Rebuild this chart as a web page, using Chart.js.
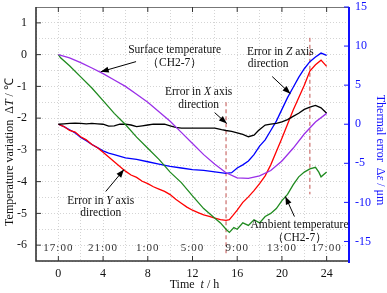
<!DOCTYPE html>
<html><head><meta charset="utf-8">
<script src="https://cdn.jsdelivr.net/npm/chart.js@4/dist/chart.umd.min.js"></script>
<style>html,body{margin:0;padding:0;background:#fff}</style>
</head><body>
<canvas id="c" width="387" height="293" style="width:387px;height:293px;display:block"></canvas>
<script>
// ---- data ----
const hourTicks = [0, 4, 8, 12, 16, 20, 24];
const clockLabels = ['17:00', '21:00', '1:00', '5:00', '9:00', '13:00', '17:00'];

const surfaceHours = [0,1,2,3,4,5,6,7,8,9,10,11,12,13,14,15,16,17,18,19,20,21,22,23,24];
const surfaceTemp  = [0,-0.1,-0.25,-0.42,-0.6,-0.8,-1.0,-1.25,-1.5,-1.8,-2.1,-2.45,-2.8,-3.15,-3.45,-3.72,-3.88,-3.9,-3.82,-3.65,-3.35,-2.95,-2.5,-2.12,-1.85];

const ambientHours = [0,0.2,1,2,3,4,5,6,7,8,9,10,11,12,13,14,14.5,15,15.3,15.7,16,16.5,17,17.5,18,18.5,19,19.5,20,20.5,21,21.5,22,22.5,23,23.3,23.5,24];
const ambientTemp  = [0,-0.1,-0.35,-0.7,-1.05,-1.45,-1.85,-2.2,-2.6,-2.95,-3.3,-3.7,-4.03,-4.45,-4.85,-5.15,-5.3,-5.5,-5.6,-5.45,-5.5,-5.3,-5.38,-5.2,-5.3,-5.1,-5.0,-4.85,-4.6,-4.4,-4.1,-3.85,-3.7,-3.6,-3.55,-3.7,-3.85,-3.7];

const errorXHours = [0,0.5,1,1.5,2,2.5,3,3.5,4,4.5,5,5.5,6,6.5,7,7.5,8,8.5,9,9.5,10,10.5,11,12,13,14,14.6,15,15.5,16,16.5,17,17.5,17.9,18.5,19,19.5,20,20.5,21,21.5,22,22.5,23,23.5,24];
const errorX      = [0,0.05,0.1,0.15,0.1,0.05,0.1,0.05,0,-0.25,-0.2,0,0,-0.1,-0.3,-0.2,-0.1,0,0,0,-0.2,-0.4,-0.5,-0.5,-0.5,-0.5,-0.7,-0.8,-0.9,-1.1,-1.3,-1.6,-1.4,-0.8,-0.1,0,0.1,0.3,0.6,1.0,1.4,1.9,2.2,2.4,2.1,1.4];

const errorYHours = [0,0.5,1,1.5,2,2.5,3,3.5,4,4.5,5,5.5,6,6.5,7,7.5,8,8.5,9,9.5,10,10.5,11,11.5,12,12.5,13,13.5,14,14.5,15,15.3,15.6,16,16.5,17,17.5,18,18.5,19,19.5,20,20.5,21,21.5,22,22.5,23,23.5,24];
const errorY      = [0,-0.3,-0.8,-1.0,-1.6,-2.0,-2.6,-3.0,-3.6,-4.2,-4.8,-5.4,-6.0,-6.5,-6.8,-7.3,-7.6,-8.0,-8.3,-8.6,-9.0,-9.6,-10.1,-10.6,-11.0,-11.3,-11.6,-11.8,-12.0,-12.2,-12.3,-12.2,-11.7,-11.0,-10.0,-9.3,-8.5,-7.6,-6.6,-5.2,-3.5,-1.8,0,1.8,3.4,5.0,6.8,7.6,8.2,7.4];

const errorZHours = [0,0.5,1,1.5,2,2.5,3,3.5,4,4.5,5,6,7,8,9,10,11,12,13,14,15,15.5,16,16.5,17,17.5,18,18.5,19,19.5,20,20.5,21,21.5,22,22.5,23,23.5,24];
const errorZ      = [0,-0.3,-0.7,-1.1,-1.7,-2.1,-2.6,-3.0,-3.4,-3.7,-3.9,-4.3,-4.5,-4.8,-5.1,-5.4,-5.6,-5.8,-5.9,-6.1,-6.3,-6.2,-5.6,-5.2,-4.7,-3.9,-2.8,-2.0,-0.8,0.4,1.9,3.4,4.7,6.0,7.1,8.0,8.6,9.1,8.8];

const markerHours = [15, 22.5];
const markerTop    = [-1.5, 0.53];
const markerBottom = [-6.3, -4.4];

// ---- build ----
const pts = (xs, ys) => xs.map((x, i) => ({x, y: ys[i]}));
const SERIF = '"Liberation Serif", "Times New Roman", serif';

const datasets = [
  {data: pts(surfaceHours, surfaceTemp), borderColor: '#9a2fe8', yAxisID: 'y'},
  {data: pts(ambientHours, ambientTemp), borderColor: '#1f8a1f', yAxisID: 'y'},
  {data: pts(errorXHours, errorX), borderColor: '#000000', yAxisID: 'y1'},
  {data: pts(errorYHours, errorY), borderColor: '#ff0000', yAxisID: 'y1'},
  {data: pts(errorZHours, errorZ), borderColor: '#0000ff', yAxisID: 'y1'},
].map(d => Object.assign({borderWidth: 1.3, pointRadius: 0, tension: 0, fill: false}, d));

markerHours.forEach((h, i) => {
  datasets.push({data: [{x: h, y: markerTop[i]}, {x: h, y: markerBottom[i]}], yAxisID: 'y',
    borderColor: '#c0504d', borderWidth: 1, borderDash: [4, 3], pointRadius: 0, fill: false});
});

function richText(ctx, segs, cx, cy, size, color) {
  ctx.save();
  ctx.fillStyle = color; ctx.textBaseline = 'middle'; ctx.textAlign = 'left';
  let w = 0;
  segs.forEach(s => { ctx.font = (s[1] ? 'italic ' : '') + size + 'px ' + SERIF; w += ctx.measureText(s[0]).width; });
  let x = cx - w / 2;
  segs.forEach(s => { ctx.font = (s[1] ? 'italic ' : '') + size + 'px ' + SERIF; ctx.fillText(s[0], x, cy); x += ctx.measureText(s[0]).width; });
  ctx.restore();
}
function arrow(ctx, x1, y1, x2, y2) {
  ctx.save();
  ctx.strokeStyle = '#000'; ctx.fillStyle = '#000'; ctx.lineWidth = 1;
  ctx.beginPath(); ctx.moveTo(x1, y1); ctx.lineTo(x2, y2); ctx.stroke();
  const a = Math.atan2(y2 - y1, x2 - x1), L = 8, W = 3;
  ctx.beginPath(); ctx.moveTo(x2, y2);
  ctx.lineTo(x2 - L * Math.cos(a) + W * Math.sin(a), y2 - L * Math.sin(a) - W * Math.cos(a));
  ctx.lineTo(x2 - L * Math.cos(a) - W * Math.sin(a), y2 - L * Math.sin(a) + W * Math.cos(a));
  ctx.closePath(); ctx.fill();
  ctx.restore();
}

const annotations = [
  {lines: [[['Surface temperature', 0]], [['\uFF08CH2-7\uFF09', 0]]], at: [[10.4, 0.16], [10.4, -0.25]], arrow: [6.95, -0.22, 3.79, -0.54]},
  {lines: [[['Error in ', 0], ['Z', 1], [' axis', 0]], [['direction', 0]]], at: [[19.86, 0.09], [18.77, -0.28]], arrow: [19.13, -0.69, 20.76, -1.23]},
  {lines: [[['Error in ', 0], ['X', 1], [' axis', 0]], [['direction', 0]]], at: [[12.55, -1.17], [12.55, -1.6]], arrow: [13.99, -1.83, 15.07, -2.17]},
  {lines: [[['Error in ', 0], ['Y', 1], [' axis', 0]], [['direction', 0]]], at: [[3.79, -4.6], [3.79, -4.98]], arrow: [4.24, -4.31, 5.87, -3.62]},
  {lines: [[['Ambient temperature', 0]], [['\uFF08CH2-7\uFF09', 0]]], at: [[21.57, -5.35], [21.57, -5.76]], arrow: [21.12, -5.1, 20.31, -4.47]},
];

const decor = {
  id: 'decor',
  afterDatasetsDraw(chart) {
    const {ctx, chartArea: a, scales: {x, y, y1}} = chart;
    ctx.save();
    // spines
    ctx.lineWidth = 1; ctx.strokeStyle = '#777';
    ctx.beginPath(); ctx.moveTo(a.left, a.top + 0.5); ctx.lineTo(a.right, a.top + 0.5); ctx.stroke();
    ctx.lineWidth = 1.6; ctx.strokeStyle = '#333';
    ctx.beginPath(); ctx.moveTo(a.left, a.top); ctx.lineTo(a.left, a.bottom); ctx.lineTo(a.right, a.bottom); ctx.stroke();
    ctx.lineWidth = 2; ctx.strokeStyle = '#1010ff';
    ctx.beginPath(); ctx.moveTo(a.right, a.top); ctx.lineTo(a.right, a.bottom + 2); ctx.stroke();
    // inner ticks
    ctx.lineWidth = 1; ctx.strokeStyle = '#333';
    for (let v = -6; v <= 1; v++) { const p = y.getPixelForValue(v); ctx.beginPath(); ctx.moveTo(a.left, p); ctx.lineTo(a.left + 5, p); ctx.stroke(); }
    hourTicks.forEach(h => {
      const p = x.getPixelForValue(h);
      ctx.beginPath(); ctx.moveTo(p, a.bottom); ctx.lineTo(p, a.bottom - 5); ctx.stroke();
      ctx.beginPath(); ctx.moveTo(p, a.top); ctx.lineTo(p, a.top + 5); ctx.stroke();
    });
    ctx.strokeStyle = '#1010ff';
    for (let v = -15; v <= 15; v += 5) { const p = y1.getPixelForValue(v); ctx.beginPath(); ctx.moveTo(a.right, p); ctx.lineTo(a.right - 5, p); ctx.stroke(); }
    // clock labels
    ctx.fillStyle = '#333'; ctx.font = '11px ' + SERIF; ctx.textAlign = 'center'; ctx.textBaseline = 'middle';
    ctx.letterSpacing = '1px';
    hourTicks.forEach((h, i) => ctx.fillText(clockLabels[i], x.getPixelForValue(h), y.getPixelForValue(-6.08)));
    ctx.letterSpacing = '0px';
    // annotations
    annotations.forEach(an => {
      an.lines.forEach((segs, i) => richText(ctx, segs, x.getPixelForValue(an.at[i][0]), y.getPixelForValue(an.at[i][1]), 11.5, '#111'));
      const r = an.arrow;
      arrow(ctx, x.getPixelForValue(r[0]), y.getPixelForValue(r[1]), x.getPixelForValue(r[2]), y.getPixelForValue(r[3]));
    });
    // axis titles
    richText(ctx, [['Time  ', 0], ['t', 1], [' / h', 0]], (a.left + a.right) / 2 + 2, 285, 12, '#111');
    ctx.save(); ctx.translate(10, 152); ctx.rotate(-Math.PI / 2);
    richText(ctx, [['Temperature variation  \u0394', 0], ['T', 1], [' / \u2103', 0]], 0, 0, 12, '#111');
    ctx.restore();
    ctx.save(); ctx.translate(380, 150); ctx.rotate(Math.PI / 2);
    richText(ctx, [['Thermal error  \u0394', 0], ['\u03B5', 1], [' / \u03BCm', 0]], 0, 0, 12, '#1010ff');
    ctx.restore();
    ctx.restore();
  }
};

new Chart(document.getElementById('c'), {
  type: 'line',
  data: {datasets},
  options: {
    responsive: false, animation: false, devicePixelRatio: 1,
    layout: {padding: 0},
    plugins: {legend: {display: false}, tooltip: {enabled: false}},
    scales: {
      x: {type: 'linear', min: -2, max: 26,
        afterFit: s => { s.height = 32; s.paddingLeft = 0; s.paddingRight = 0; },
        grid: {color: '#d4d4d4', lineWidth: 1, drawTicks: false},
        border: {display: false, dash: [1, 2]},
        ticks: {stepSize: 2, autoSkip: false, maxRotation: 0, padding: 6, color: '#111',
          font: {family: SERIF, size: 12},
          callback: v => (v % 4 === 0 && v >= 0 && v <= 24) ? String(v) : ''}},
      y: {type: 'linear', position: 'left', min: -6.5, max: 1.5,
        afterFit: s => { s.width = 36; s.paddingTop = 7; s.paddingBottom = 0; },
        grid: {color: '#d4d4d4', lineWidth: 1, drawTicks: false},
        border: {display: false, dash: [1, 2]},
        ticks: {stepSize: 0.5, autoSkip: false, padding: 9, color: '#111',
          font: {family: SERIF, size: 12},
          callback: v => Number.isInteger(v) ? String(v) : ''}},
      y1: {type: 'linear', position: 'right', min: -17.5, max: 15,
        afterFit: s => { s.width = 38; s.paddingTop = 7; s.paddingBottom = 0; },
        grid: {display: false, drawTicks: false},
        border: {display: false},
        ticks: {stepSize: 5, autoSkip: false, padding: 6, color: '#1010ff',
          font: {family: SERIF, size: 12},
          callback: v => (v % 5 === 0) ? String(v) : ''}}
    }
  },
  plugins: [decor]
});
</script>
</body></html>
